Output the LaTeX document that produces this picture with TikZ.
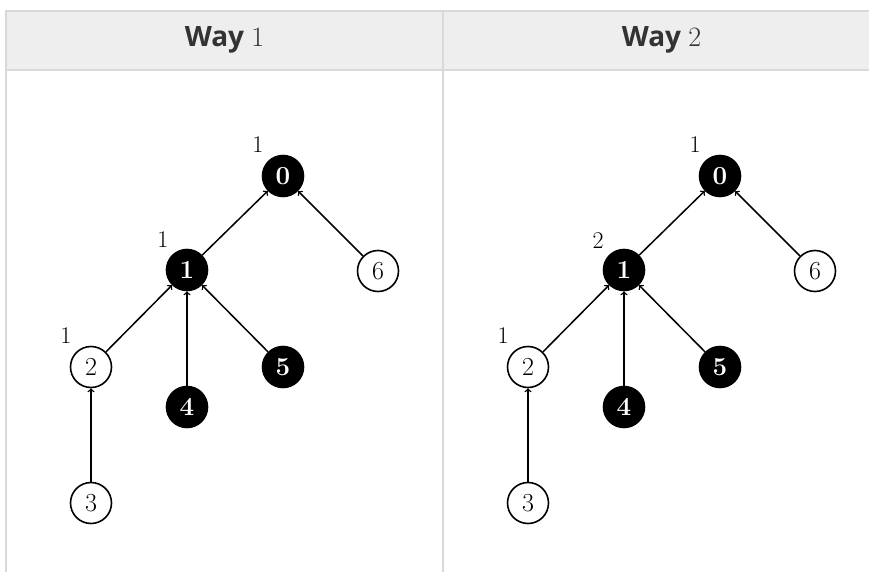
\documentclass[tikz,border=0pt]{standalone}
\usepackage{fontspec}
\usepackage{amsmath}
\usepackage{tikz}
\usetikzlibrary{calc,arrows}
\newfontfamily\headfont{Open Sans}
\definecolor{headgray}{HTML}{EEEEEE}
\definecolor{rulegray}{HTML}{D9D9D9}
\definecolor{headtext}{HTML}{333333}
\newcommand{\wayno}[1]{{\rmfamily\mdseries #1}}

\begin{document}
\begin{tikzpicture}[x=1pt,y=-1pt,
    blk/.style={circle,fill=black,draw=black,line width=1.6pt,minimum size=41pt,inner sep=0pt,text=white,font=\fontsize{26}{28}\selectfont\bfseries},
    wht/.style={circle,fill=white,draw=black,line width=1.6pt,minimum size=41pt,inner sep=0pt,font=\fontsize{26}{28}\selectfont},
    cnt/.style={font=\fontsize{24}{26}\selectfont,inner sep=0pt},
    edge/.style={->,>=to,line width=1.5pt},
    head/.style={text=headtext,font=\headfont\fontsize{28}{32}\selectfont\bfseries}]
      \useasboundingbox (0,0) rectangle (869,572);
      % table
      \fill[headgray] (6,11) rectangle (869,70);
      \draw[rulegray,line width=1.5pt] (869,11) -- (6,11) -- (6,572);
      \draw[rulegray,line width=1.5pt] (6,70) -- (869,70);
      \draw[rulegray,line width=1.5pt] (443,11) -- (443,572);
      \node[head] (h1) at (224.5,40) {Way \wayno{1}};
      \node[head] (h2) at (661.5,40) {Way \wayno{2}};
      % Way 1
      \node[blk] (a0) at (283,176) {0};
      \node[blk] (a1) at (187,270) {1};
      \node[wht] (a6) at (378,271) {6};
      \node[wht] (a2) at (91,367) {2};
      \node[blk] (a5) at (283,367) {5};
      \node[blk] (a4) at (187,407) {4};
      \node[wht] (a3) at (91,503) {3};
      \draw[edge] (a1) -- (a0);
      \draw[edge] (a6) -- (a0);
      \draw[edge] (a2) -- (a1);
      \draw[edge] (a4) -- (a1);
      \draw[edge] (a5) -- (a1);
      \draw[edge] (a3) -- (a2);
      \node[cnt] (ca0) at (258,145) {1};
      \node[cnt] (ca1) at (163,240) {1};
      \node[cnt] (ca2) at (66,336) {1};
      % Way 2
      \node[blk] (b0) at (720,176) {0};
      \node[blk] (b1) at (624,270) {1};
      \node[wht] (b6) at (815,271) {6};
      \node[wht] (b2) at (528,367) {2};
      \node[blk] (b5) at (720,367) {5};
      \node[blk] (b4) at (624,407) {4};
      \node[wht] (b3) at (528,503) {3};
      \draw[edge] (b1) -- (b0);
      \draw[edge] (b6) -- (b0);
      \draw[edge] (b2) -- (b1);
      \draw[edge] (b4) -- (b1);
      \draw[edge] (b5) -- (b1);
      \draw[edge] (b3) -- (b2);
      \node[cnt] (cb0) at (695,145) {1};
      \node[cnt] (cb1) at (598,241) {2};
      \node[cnt] (cb2) at (503,336) {1};
\end{tikzpicture}
\end{document}
